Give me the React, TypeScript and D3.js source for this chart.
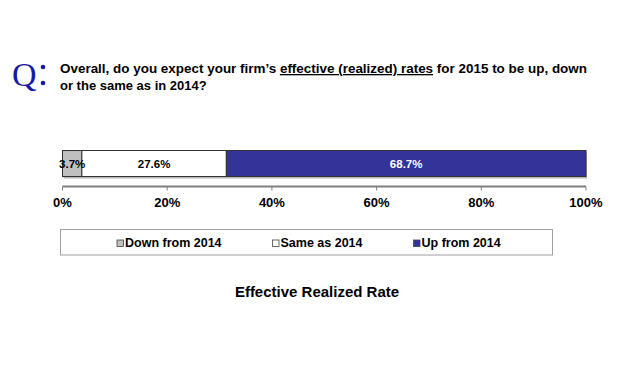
import React from "react";
import * as d3 from "d3";

const categories = ["Down from 2014", "Same as 2014", "Up from 2014"];
const values = [3.7, 27.6, 68.7];
const colors = ["#c0c0c0", "#ffffff", "#333399"];
const labelColors = ["#000000", "#000000", "#ffffff"];
const ticks = [0, 20, 40, 60, 80, 100];

export default function App() {
  const W = 630, H = 376;
  const x = d3.scaleLinear().domain([0, 100]).range([62.5, 586]);
  const barY = 150.5, barH = 26;
  const axisY = 186.5;
  let acc = 0;
  const segs = values.map((v, i) => {
    const s = { x0: acc, x1: acc + v, v, i };
    acc += v;
    return s;
  });
  const legendX = [120, 275.5, 416.5];
  const font = "Arial, 'Liberation Sans', sans-serif";
  return (
    <svg width={W} height={H} style={{ position: "absolute", left: 0, top: 0 }}>
      <rect width={W} height={H} fill="#ffffff" />
      <text x={12} y={86} fontFamily="'Times New Roman', 'Liberation Serif', serif" fontSize={34} fill="#1a1aa0">Q</text>
      <circle cx={43} cy={67} r={2.3} fill="#1a1aa0" />
      <circle cx={43} cy={83} r={2.3} fill="#1a1aa0" />
      <text x={60} y={73} fontFamily={font} fontSize={13} fontWeight="bold" fill="#000" textLength={527} lengthAdjust="spacingAndGlyphs">
        <tspan>Overall, do you expect your firm’s </tspan>
        <tspan textDecoration="underline">effective (realized) rates</tspan>
        <tspan> for 2015 to be up, down</tspan>
      </text>
      <text x={60} y={89.5} fontFamily={font} fontSize={13} fontWeight="bold" fill="#000">or the same as in 2014?</text>

      <rect x={x(0) + 1} y={barY + 2} width={x(100) - x(0)} height={barH} fill="#b8b8b8" />
      {segs.map((s) => (
        <rect key={s.i} x={x(s.x0)} y={barY} width={x(s.x1) - x(s.x0)} height={barH} fill={colors[s.i]} stroke="#333" strokeWidth={1} />
      ))}
      {segs.map((s) => (
        <text key={"l" + s.i} x={(x(s.x0) + x(s.x1)) / 2} y={167.5} textAnchor="middle" fontFamily={font} fontSize={11.5} fontWeight="bold" fill={labelColors[s.i]}>
          {s.v.toFixed(1)}%
        </text>
      ))}

      <line x1={x(0)} x2={x(100)} y1={axisY} y2={axisY} stroke="#808080" strokeWidth={2} />
      {ticks.map((t) => (
        <g key={t}>
          <line x1={x(t)} x2={x(t)} y1={axisY} y2={axisY + 4} stroke="#808080" strokeWidth={1} />
          <text x={x(t)} y={206.5} textAnchor="middle" fontFamily={font} fontSize={13} fontWeight="bold" fill="#000">{t}%</text>
        </g>
      ))}

      <rect x={60.5} y={229.5} width={492} height={25.5} fill="#fff" stroke="#a0a0a0" strokeWidth={1} />
      {categories.map((c, i) => (
        <g key={c}>
          <rect x={legendX[i] - 3} y={240} width={6.5} height={6.5} fill={colors[i]} stroke="#444" strokeWidth={0.8} />
          <text x={legendX[i] + 5} y={247} fontFamily={font} fontSize={12.5} fontWeight="bold" fill="#000">{c}</text>
        </g>
      ))}

      <text x={317} y={297} textAnchor="middle" fontFamily={font} fontSize={15} fontWeight="bold" fill="#000">Effective Realized Rate</text>
    </svg>
  );
}
